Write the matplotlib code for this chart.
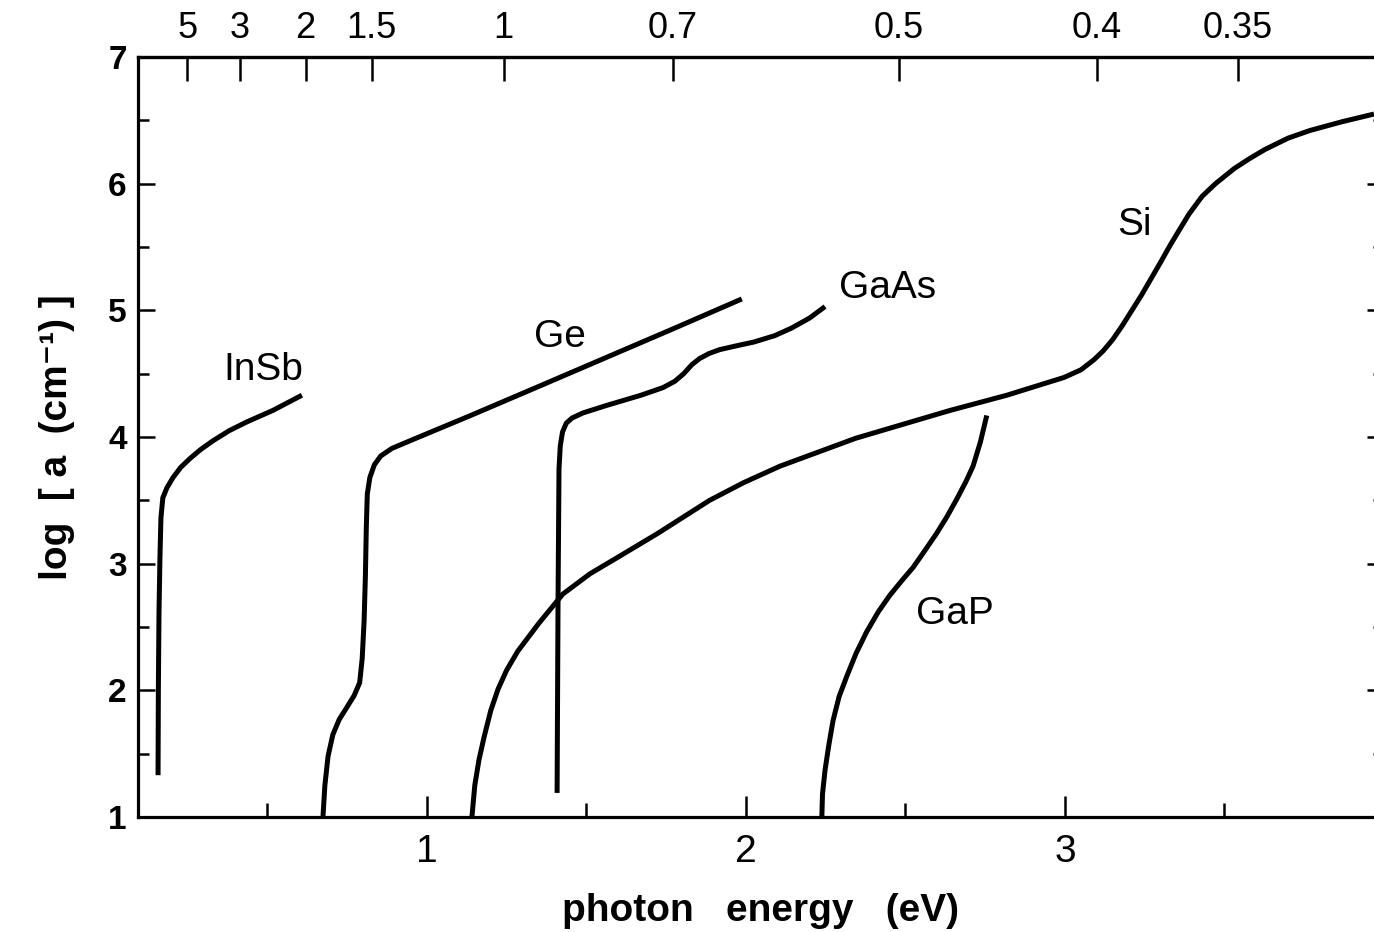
import matplotlib
matplotlib.use("Agg")
import matplotlib.pyplot as plt

# absorption edges, photon energy (eV) vs log10 alpha (cm^-1)
insb_e = [0.157, 0.158, 0.160, 0.163, 0.166, 0.172, 0.185, 0.204, 0.228, 0.257,
          0.290, 0.329, 0.380, 0.436, 0.517, 0.608]
insb_a = [1.33, 2.00, 2.62, 3.05, 3.36, 3.52, 3.60, 3.68, 3.76, 3.83,
          3.90, 3.97, 4.05, 4.12, 4.21, 4.33]

ge_e = [0.674, 0.680, 0.690, 0.705, 0.725, 0.750, 0.772, 0.789, 0.797, 0.803,
        0.807, 0.810, 0.813, 0.821, 0.835, 0.855, 0.890, 0.975, 1.137, 1.351,
        1.564, 1.777, 1.987]
ge_a = [1.00, 1.25, 1.48, 1.65, 1.77, 1.87, 1.96, 2.06, 2.25, 2.55,
        2.90, 3.30, 3.55, 3.68, 3.78, 3.85, 3.91, 4.00, 4.17, 4.40,
        4.63, 4.86, 5.09]

gaas_e = [1.408, 1.411, 1.414, 1.418, 1.425, 1.437, 1.455, 1.489, 1.564, 1.671,
          1.740, 1.777, 1.805, 1.830, 1.855, 1.885, 1.918, 1.970, 2.025, 2.090,
          2.143, 2.200, 2.248]
gaas_a = [1.19, 2.72, 3.75, 3.93, 4.04, 4.11, 4.15, 4.19, 4.25, 4.33,
          4.39, 4.44, 4.50, 4.57, 4.62, 4.66, 4.69, 4.72, 4.75, 4.80,
          4.86, 4.94, 5.03]

si_e = [1.141, 1.150, 1.163, 1.179, 1.200, 1.223, 1.250, 1.285, 1.351, 1.426,
        1.511, 1.618, 1.724, 1.886, 1.993, 2.107, 2.344, 2.640, 2.818, 2.997,
        3.050, 3.091, 3.120, 3.150, 3.180, 3.210, 3.240, 3.270, 3.300, 3.329,
        3.360, 3.389, 3.430, 3.472, 3.531, 3.580, 3.627, 3.700, 3.768, 3.870,
        3.969]
si_a = [1.00, 1.25, 1.45, 1.63, 1.84, 2.01, 2.16, 2.31, 2.53, 2.76,
        2.92, 3.08, 3.24, 3.50, 3.64, 3.77, 3.99, 4.21, 4.33, 4.47,
        4.53, 4.61, 4.68, 4.77, 4.88, 5.00, 5.12, 5.25, 5.38, 5.51,
        5.64, 5.76, 5.90, 6.00, 6.12, 6.20, 6.27, 6.36, 6.42, 6.49,
        6.55]

gap_e = [2.238, 2.240, 2.248, 2.260, 2.273, 2.292, 2.316, 2.345, 2.378, 2.415,
         2.451, 2.490, 2.524, 2.560, 2.598, 2.630, 2.661, 2.690, 2.712, 2.735,
         2.755]
gap_a = [1.00, 1.18, 1.37, 1.57, 1.76, 1.95, 2.11, 2.29, 2.46, 2.62,
         2.75, 2.87, 2.97, 3.10, 3.24, 3.37, 3.51, 3.65, 3.77, 3.96,
         4.17]

names = ["InSb", "Ge", "GaAs", "Si", "GaP"]
name_x = [0.486, 1.417, 2.445, 3.219, 2.655]
name_y = [4.53, 4.79, 5.18, 5.67, 2.60]

wavelengths = [5, 3, 2, 1.5, 1, 0.7, 0.5, 0.4, 0.35]
wl_labels = ["5", "3", "2", "1.5", "1", "0.7", "0.5", "0.4", "0.35"]

plt.rcParams["font.family"] = ["Liberation Sans", "DejaVu Sans"]

fig = plt.figure(figsize=(13.74, 9.32), dpi=100)
ax = fig.add_axes([0.1004, 0.1234, 0.9068, 0.8154])

for e, a in [(insb_e, insb_a), (ge_e, ge_a), (gaas_e, gaas_a), (si_e, si_a), (gap_e, gap_a)]:
    ax.plot(e, a, color="black", lw=3.6, solid_capstyle="butt",
            solid_joinstyle="round", clip_on=False)

for n, x, y in zip(names, name_x, name_y):
    ax.text(x, y, n, fontsize=28, ha="center", va="center")

ax.set_xlim(0.094, 4.0)
ax.set_ylim(1, 7)
for s in ax.spines.values():
    s.set_linewidth(2.3)

ax.set_xticks([1, 2, 3, 4])
ax.set_xticklabels(["1", "2", "3", "4"], fontsize=28)
ax.set_xticks([0.5, 1.5, 2.5, 3.5], minor=True)
ax.set_yticks([1, 2, 3, 4, 5, 6, 7])
ax.set_yticklabels(["1", "2", "3", "4", "5", "6", "7"], fontsize=24, fontweight="bold")
ax.set_yticks([1.5, 2.5, 3.5, 4.5, 5.5, 6.5], minor=True)
ax.tick_params(axis="x", which="major", direction="in", length=15, width=1.8, pad=12, top=False)
ax.tick_params(axis="x", which="minor", direction="in", length=10, width=1.8, top=False)
ax.tick_params(axis="y", which="major", direction="in", length=12, width=1.8, pad=8, right=True)
ax.tick_params(axis="y", which="minor", direction="in", length=8, width=1.8, right=True)

ax2 = ax.twiny()
ax2.set_xlim(ax.get_xlim())
ax2.set_xticks([1.24 / w for w in wavelengths])
ax2.set_xticklabels(wl_labels, fontsize=26)
ax2.tick_params(axis="x", direction="in", length=17, width=1.8, pad=8)
ax2.spines["top"].set_linewidth(2.3)

ax.set_xlabel("photon   energy   (eV)", fontsize=28, fontweight="bold", labelpad=17)
ax.set_ylabel("log  [ a  (cm⁻¹) ]", fontsize=28, fontweight="bold", labelpad=24)

fig.savefig("out.png", dpi=100)
